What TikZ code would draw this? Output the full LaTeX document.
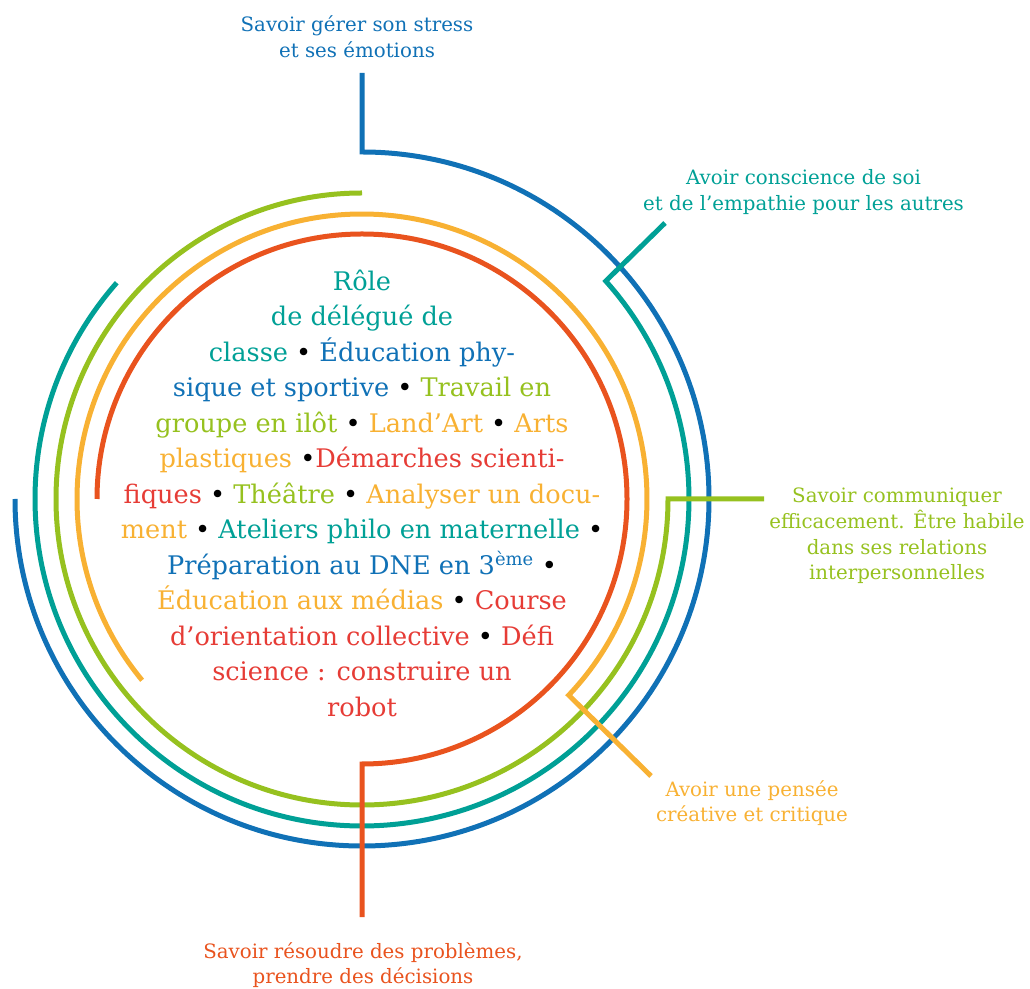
\documentclass[tikz,border=0pt]{standalone}
\usepackage{fontspec}
\setmainfont{DejaVu Serif}
\definecolor{cblue}{HTML}{1071B6}
\definecolor{cteal}{HTML}{00A096}
\definecolor{cgreen}{HTML}{96C11F}
\definecolor{corange}{HTML}{F8B133}
\definecolor{carc}{HTML}{E9531E}
\definecolor{ctxtred}{HTML}{E63C36}
\begin{document}
\begin{tikzpicture}[x=1pt,y=1pt,
  ring/.style={line width=5pt},
  lab/.style={inner sep=0pt, align=center, font=\fontsize{19.8}{25.6}\selectfont},
  core/.style={inner sep=0pt, align=center, font=\fontsize{25.6}{35.5}\selectfont}]
\useasboundingbox (0,0) rectangle (1030,988);
\coordinate (C) at (362,489);
\coordinate (bluetip) at (362,915);
\coordinate (tealtip) at (665,765);
\coordinate (greentip) at (764,489);
\coordinate (orangetip) at (651,212);
\coordinate (redtip) at (362,71);

% rings
\draw[ring, cblue] (bluetip) -- (362,836) arc[start angle=90, end angle=-180, radius=347];
\draw[ring, cteal] (C) ++(138.6:327) arc[start angle=138.6, end angle=401.8, radius=327] -- (tealtip);
\draw[ring, cgreen] (C) ++(90:306) arc[start angle=90, end angle=360, radius=306] -- (greentip);
\draw[ring, corange] (C) ++(219.5:285) arc[start angle=219.5, end angle=-43.5, radius=285] -- (orangetip);
\draw[ring, carc] (C) ++(180:265) arc[start angle=180, end angle=-90, radius=265] -- (redtip);

% labels
\node[lab, text=cblue] (lblue) at (357,951) {Savoir gérer son stress\\et ses émotions};
\node[lab, text=cteal] (lteal) at (803.5,796) {Avoir conscience de soi\\et de l’empathie pour les autres};
\node[lab, text=cgreen] (lgreen) at (897,452) {Savoir communiquer\\efficacement. Être habile\\dans ses relations\\interpersonnelles};
\node[lab, text=corange] (lorange) at (752,185) {Avoir une pensée\\créative et critique};
\node[lab, text=carc] (lred) at (363,23) {Savoir résoudre des problèmes,\\prendre des décisions};

% core text
\node[core] (core) at (362,495) {%
\textcolor{cteal}{Rôle}\\
\textcolor{cteal}{de délégué de}\\
\textcolor{cteal}{classe} • \textcolor{cblue}{Éducation phy-}\\
\textcolor{cblue}{sique et sportive} • \textcolor{cgreen}{Travail en}\\
\textcolor{cgreen}{groupe en ilôt} • \textcolor{corange}{Land’Art} • \textcolor{corange}{Arts}\\
\textcolor{corange}{plastiques} •\textcolor{ctxtred}{Démarches scienti-}\\
\textcolor{ctxtred}{fiques} • \textcolor{cgreen}{Théâtre} • \textcolor{corange}{Analyser un docu-}\\
\textcolor{corange}{ment} • \textcolor{cteal}{Ateliers philo en maternelle} •\\
\textcolor{cblue}{Préparation au DNE en 3\textsuperscript{ème}} •\\
\textcolor{corange}{Éducation aux médias} • \textcolor{ctxtred}{Course}\\
\textcolor{ctxtred}{d’orientation collective} • \textcolor{ctxtred}{Défi}\\
\textcolor{ctxtred}{science : construire un}\\
\textcolor{ctxtred}{robot}};
\end{tikzpicture}
\end{document}
